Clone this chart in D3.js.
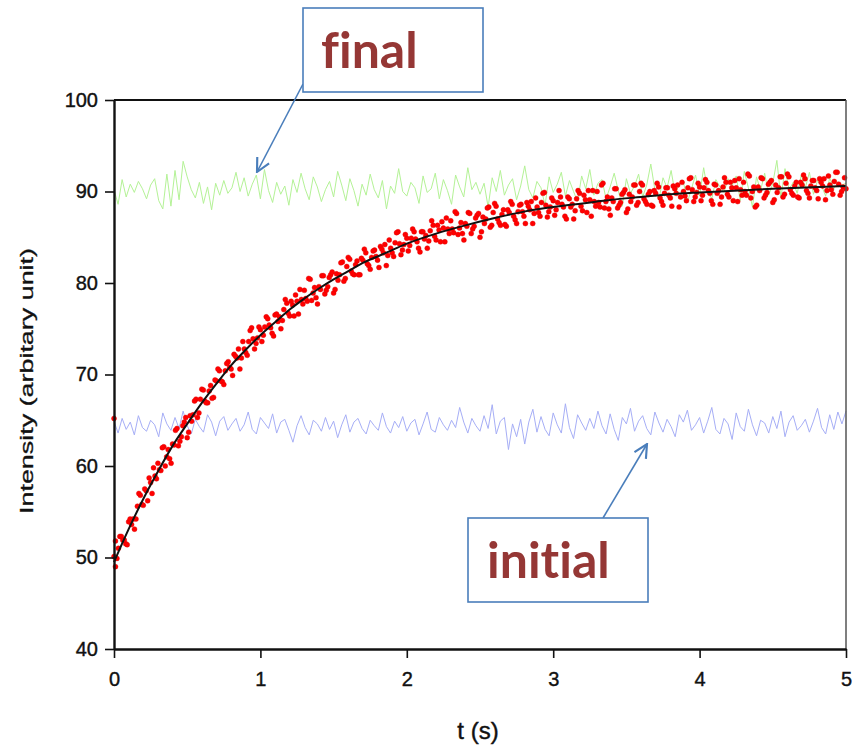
<!DOCTYPE html>
<html>
<head>
<meta charset="utf-8">
<script src="https://cdn.jsdelivr.net/npm/d3@7"></script>
<style>
  body { margin: 0; background: #fff; }
  svg text { font-family: "Liberation Sans", Arial, sans-serif; }
</style>
</head>
<body>
<svg id="chart"></svg>
<script>
// axis ticks
const xTicks = [0, 1, 2, 3, 4, 5];
const yTicks = [40, 50, 60, 70, 80, 90, 100];

// green trace ("final"), evenly spaced over 0..5 s
const finalTrace = [
  90.2, 88.6, 91.3, 89.4, 90.8, 89.9, 91.1, 90.3, 89.2, 90.7,
  91.4, 89.0, 88.1, 91.9, 88.4, 92.3, 89.1, 93.3, 91.6, 90.2,
  89.3, 91.0, 88.7, 90.5, 88.0, 90.9, 89.6, 91.2, 89.8, 90.4,
  92.1, 90.0, 91.5, 89.5, 90.8, 91.8, 89.2, 92.4, 90.1, 88.8,
  91.0, 89.7, 90.6, 88.5, 91.3, 89.9, 92.0, 90.3, 89.1, 91.6,
  90.5, 88.9, 90.2, 91.1, 89.4, 92.2, 90.7, 89.0, 91.4, 90.1,
  88.4, 90.8, 89.6, 91.9, 90.2, 89.3, 91.2, 88.1, 90.6, 89.8,
  92.5, 90.0, 89.5, 91.0, 90.4, 88.7, 91.7, 89.9, 90.3, 92.0,
  89.2, 91.3, 90.1, 88.6, 91.8, 90.5, 89.4, 92.6, 90.2, 91.0,
  89.7, 90.9, 88.3, 91.5, 90.0, 92.3, 89.6, 90.7, 91.4, 89.1,
  90.6, 92.8, 90.2, 89.3, 91.1, 90.4, 88.5, 91.6, 89.9, 90.8,
  92.1, 89.5, 91.2, 90.0, 88.9, 91.7, 90.3, 92.4, 89.6, 90.9,
  91.3, 89.2, 90.5, 92.0, 90.1, 88.4, 91.4, 89.8, 90.6, 91.9,
  89.4, 90.7, 93.0, 90.2, 89.1, 91.5, 90.4, 92.3, 89.7, 90.8,
  91.1, 88.8, 90.3, 91.8, 89.5, 92.6, 90.0, 89.2, 91.3, 90.5,
  89.9, 91.4, 90.6, 91.7, 89.0, 92.2, 90.4, 88.3, 91.6, 90.1,
  92.0, 89.6, 90.9, 93.4, 89.3, 92.5, 90.2, 91.0, 89.8, 91.8,
  90.4, 92.1, 89.7, 91.2, 90.6, 89.5, 91.5, 90.3, 91.0, 90.7,
  90.9
];

// blue trace ("initial"), evenly spaced over 0..5 s
const initialTrace = [
  64.9, 63.6, 65.2, 64.0, 64.8, 63.4, 65.5, 64.2, 63.8, 65.0,
  64.5, 63.2, 65.8, 64.6, 63.9, 65.3, 64.1, 66.0, 64.4, 63.5,
  65.1, 64.3, 63.7, 65.6, 64.8, 63.3, 64.9, 65.4, 63.9, 64.6,
  65.2, 63.8, 64.5, 65.9, 64.0, 63.5, 65.3, 64.7, 64.1, 65.7,
  63.6, 64.8, 65.1, 63.9, 62.6, 64.4, 65.5, 64.2, 63.4, 65.0,
  64.6, 63.8, 65.3, 64.0, 64.9, 63.1, 64.5, 65.6, 63.7, 64.8,
  65.2, 64.1, 63.5, 65.0, 64.4, 63.9, 65.8, 64.3, 63.6, 64.9,
  64.2, 65.4, 63.8, 64.7, 65.1, 63.4, 64.6, 65.9, 64.0, 63.7,
  65.3, 64.5, 63.9, 65.0, 64.2, 66.4, 64.8, 63.6, 65.2, 64.4,
  63.8, 65.5, 64.1, 66.7, 63.5, 64.9, 65.3, 61.8, 64.6, 63.2,
  65.1, 62.4, 64.8, 66.2, 63.7, 65.4, 64.0, 63.3, 65.8, 64.5,
  63.6, 66.8, 64.2, 63.0, 65.6, 64.7, 63.9, 65.2, 64.1, 66.0,
  64.4, 63.5, 65.7, 64.0, 62.8, 65.3, 64.6, 66.3, 63.8, 64.9,
  65.5, 64.1, 63.4, 65.9, 64.7, 63.7, 65.1, 64.3, 63.2, 65.6,
  64.8, 66.1, 63.9, 64.5, 65.3, 63.6, 64.9, 66.4, 64.0, 63.5,
  65.2, 64.6, 62.9, 65.8, 64.3, 63.8, 66.2, 64.5, 63.3, 65.0,
  64.7, 63.6, 65.4, 64.1, 66.0, 63.2, 64.8, 65.5, 63.9, 64.4,
  65.1, 63.7, 64.9, 66.3, 64.2, 63.5, 65.6, 64.0, 65.9, 64.6,
  66.0
];

// red measured points, first run: t = 0, 0.02, ... 5
const recovery = [
  50.1, 49.9, 52.3, 51.9, 51.5, 53.9, 53.6, 53.1, 55.6, 56.8,
  55.7, 57.3, 58.7, 57.0, 58.9, 60.3, 59.5, 62.1, 61.0, 60.8,
  62.4, 63.9, 62.2, 63.2, 64.8, 63.1, 65.5, 65.6, 67.3, 65.8,
  68.4, 67.1, 66.9, 68.8, 67.5, 69.3, 70.4, 69.2, 70.4, 71.4,
  70.6, 72.2, 71.8, 70.6, 73.6, 72.4, 73.6, 75.1, 72.8, 74.0,
  74.9, 74.3, 76.3, 75.4, 74.5, 76.5, 75.8, 75.0, 77.1, 77.8,
  76.4, 77.6, 78.7, 76.6, 78.2, 79.2, 78.0, 80.4, 78.9, 78.4,
  79.6, 80.8, 78.8, 79.6, 80.9, 78.9, 81.0, 80.9, 82.3, 80.5,
  82.8, 81.3, 80.9, 82.4, 80.9, 82.5, 83.3, 81.9, 82.8, 83.6,
  82.5, 84.0, 83.3, 81.9, 84.7, 83.3, 84.4, 85.6, 83.1, 84.2,
  84.9, 84.1, 85.9, 84.8, 83.8, 85.6, 84.8, 83.8, 85.7, 86.3,
  84.7, 85.8, 86.7, 84.5, 85.9, 86.8, 85.5, 87.6, 86.0, 85.4,
  86.5, 87.7, 85.4, 86.2, 87.4, 85.0, 87.2, 87.0, 88.3, 86.3,
  88.7, 87.0, 86.3, 88.0, 86.2, 87.7, 88.6, 86.9, 87.8, 88.6,
  87.3, 88.8, 88.0, 86.5, 89.3, 87.7, 88.8, 89.9, 87.2, 88.3,
  89.0, 88.0, 90.1, 88.6, 87.3, 89.4, 88.3, 87.0, 89.2, 89.8,
  87.9, 89.1, 90.1, 87.3, 88.9, 90.0, 88.3, 90.9, 88.9, 88.1,
  89.3, 90.3, 88.2, 88.8, 89.9, 87.7, 89.7, 89.4, 90.7, 88.8,
  90.9, 89.2, 88.6, 90.0, 88.4, 89.8, 90.5, 88.9, 89.8, 90.4,
  89.3, 90.6, 89.8, 88.3, 91.0, 89.5, 90.4, 91.5, 88.9, 89.9,
  90.5, 89.6, 91.3, 90.1, 89.0, 90.8, 89.8, 88.6, 90.5, 91.0,
  89.4, 90.4, 91.2, 88.9, 90.2, 91.0, 89.6, 91.7, 90.0, 88.3,
  90.5, 91.5, 89.3, 89.9, 91.0, 88.8, 90.7, 90.4, 91.6, 89.7,
  91.9, 90.2, 89.6, 91.0, 89.3, 90.7, 91.4, 89.8, 90.6, 91.2,
  90.1, 91.4, 90.6, 89.1, 91.7, 90.2, 91.1, 92.1, 89.6, 90.5,
  90.3
];
// red measured points, second run: t = 0.01, 0.03, ... 4.99
const recoveryB = [
  49.0, 51.0, 52.3, 51.9, 51.4, 54.2, 54.2, 54.2, 57.0, 55.8,
  57.5, 56.2, 58.2, 59.8, 58.6, 59.6, 62.0, 60.0, 61.8, 60.3,
  62.3, 64.1, 62.7, 64.4, 65.3, 63.7, 64.9, 67.1, 65.3, 67.3,
  68.3, 66.9, 68.2, 67.4, 69.4, 70.6, 69.3, 68.9, 71.2, 70.8,
  69.9, 72.0, 72.8, 71.8, 72.8, 72.1, 74.8, 73.9, 73.4, 75.2,
  73.6, 75.2, 76.1, 75.1, 74.2, 76.6, 76.3, 75.9, 78.2, 76.7,
  78.0, 76.4, 78.0, 79.3, 77.7, 78.3, 80.5, 78.1, 79.5, 77.7,
  79.3, 80.8, 79.2, 80.6, 81.2, 79.3, 80.3, 82.2, 80.2, 81.8,
  82.6, 81.0, 82.0, 80.9, 82.7, 83.7, 82.1, 81.5, 83.5, 82.9,
  81.7, 83.7, 84.2, 83.0, 83.8, 82.9, 85.5, 84.3, 83.6, 85.3,
  83.5, 84.9, 85.6, 84.5, 83.4, 85.6, 85.2, 84.6, 86.8, 85.1,
  86.3, 84.5, 86.0, 87.1, 85.4, 85.9, 87.8, 85.3, 86.6, 84.7,
  86.2, 87.6, 85.9, 87.1, 87.6, 85.6, 86.5, 88.2, 86.1, 87.7,
  88.4, 86.6, 87.5, 86.4, 88.0, 88.9, 87.3, 86.5, 88.5, 87.8,
  86.5, 88.4, 88.9, 87.6, 88.3, 87.3, 89.8, 88.5, 87.8, 89.3,
  87.4, 88.8, 89.4, 88.3, 87.0, 89.2, 88.6, 87.9, 90.1, 88.4,
  89.6, 87.7, 89.1, 90.1, 88.4, 88.8, 90.7, 88.2, 89.4, 87.4,
  88.9, 90.3, 88.5, 89.7, 90.2, 88.1, 88.9, 90.7, 88.5, 90.0,
  90.7, 88.9, 89.7, 88.5, 90.1, 90.9, 89.3, 88.5, 90.4, 89.6,
  88.4, 90.3, 90.7, 89.4, 90.0, 89.0, 91.4, 90.2, 89.4, 90.9,
  89.0, 90.4, 91.0, 89.8, 88.6, 90.7, 90.1, 89.4, 91.5, 89.7,
  91.0, 89.0, 90.4, 91.4, 89.6, 90.0, 91.9, 89.3, 90.5, 88.5,
  90.1, 91.4, 89.6, 90.8, 91.2, 89.1, 89.9, 91.6, 89.4, 90.9,
  91.6, 89.8, 90.6, 89.4, 91.0, 91.8, 90.1, 89.3, 91.2, 90.4,
  89.2, 91.0, 91.4, 90.1, 90.7, 89.7, 92.1, 90.8, 90.0, 91.5
];
// a few stray points near t = 0
const strayT = [0.0, 0.01];
const strayV = [65.2, 51.8];

// fitted curve, read at these times
const fitT = [0, 0.1, 0.2, 0.3, 0.4, 0.5, 0.6, 0.7, 0.8, 0.9, 1.0, 1.1, 1.2, 1.3, 1.4, 1.5,
  1.6, 1.7, 1.8, 1.9, 2.0, 2.2, 2.4, 2.6, 2.8, 3.0, 3.2, 3.4, 3.6, 3.8, 4.0, 4.5, 5.0];
const fitV = [49.5, 53.1, 56.4, 59.4, 62.2, 64.6, 66.9, 69.0, 71.0, 72.7, 74.3, 75.7, 77.1, 78.3, 79.4, 80.4,
  81.3, 82.2, 82.9, 83.6, 84.3, 85.4, 86.3, 87.1, 87.8, 88.3, 88.7, 89.1, 89.4, 89.7, 89.9, 90.3, 90.6];

const W = 854, H = 755;
const plotL = 114, plotR = 846, plotT = 100, plotB = 649;

const svg = d3.select("#chart").attr("width", W).attr("height", H);

const defs = svg.append("defs");
defs.append("marker")
  .attr("id", "open")
  .attr("viewBox", "0 0 12 12")
  .attr("refX", 11).attr("refY", 6)
  .attr("markerWidth", 16).attr("markerHeight", 16)
  .attr("markerUnits", "userSpaceOnUse")
  .attr("orient", "auto")
  .append("path")
  .attr("d", "M1,1 L11,6 L1,11")
  .attr("fill", "none")
  .attr("stroke", "#4a7ebb")
  .attr("stroke-width", 1.6);

const x = d3.scaleLinear().domain([0, 5]).range([plotL, plotR]);
const y = d3.scaleLinear().domain([40, 100]).range([plotB, plotT]);

const evenT = (arr) => arr.map((v, i) => ({ t: i * 5 / (arr.length - 1), v }));

const line = d3.line().x(d => x(d.t)).y(d => y(d.v));

// noisy traces
svg.append("path")
  .datum(evenT(finalTrace))
  .attr("fill", "none")
  .attr("stroke", "#b4f296")
  .attr("stroke-width", 1)
  .attr("d", line);

svg.append("path")
  .datum(evenT(initialTrace))
  .attr("fill", "none")
  .attr("stroke", "#a6aef6")
  .attr("stroke-width", 1)
  .attr("d", line);

// measured points
const pts = evenT(recovery)
  .concat(recoveryB.map((v, i) => ({ t: 0.01 + i * 0.02, v })))
  .concat(strayT.map((t, i) => ({ t, v: strayV[i] })));
svg.append("g")
  .selectAll("circle")
  .data(pts)
  .join("circle")
  .attr("cx", d => x(d.t))
  .attr("cy", d => y(d.v))
  .attr("r", 2.5)
  .attr("fill", "#f00")
  .attr("stroke", "#d00")
  .attr("stroke-width", 0.4);

// fit
svg.append("path")
  .datum(fitT.map((t, i) => ({ t, v: fitV[i] })))
  .attr("fill", "none")
  .attr("stroke", "#111")
  .attr("stroke-width", 2)
  .attr("d", line.curve(d3.curveMonotoneX));

// frame: top and right
svg.append("line")
  .attr("x1", plotL).attr("x2", plotR).attr("y1", plotT).attr("y2", plotT)
  .attr("stroke", "#111").attr("stroke-width", 2);
svg.append("line")
  .attr("x1", plotR).attr("x2", plotR).attr("y1", plotT).attr("y2", plotB)
  .attr("stroke", "#555").attr("stroke-width", 1.5);

// axes
const yAxis = svg.append("g")
  .attr("transform", `translate(${plotL},0)`)
  .call(d3.axisLeft(y).tickValues(yTicks).tickFormat(d3.format("d"))
    .tickSize(9).tickSizeOuter(0).tickPadding(7));
const xAxis = svg.append("g")
  .attr("transform", `translate(0,${plotB})`)
  .call(d3.axisBottom(x).tickValues(xTicks).tickFormat(d3.format("d"))
    .tickSize(9).tickSizeOuter(0).tickPadding(14));

[xAxis, yAxis].forEach(g => {
  g.select(".domain").attr("stroke", "#111").attr("stroke-width", 2.4);
  g.selectAll(".tick line").attr("stroke", "#111").attr("stroke-width", 1.6);
  g.selectAll(".tick text")
    .attr("fill", "#111")
    .attr("stroke", "#111")
    .attr("stroke-width", 0.4)
    .style("font-size", "20px")
    .style("font-family", "'Liberation Sans', Arial, sans-serif");
});

// axis titles
svg.append("text")
  .attr("transform", "translate(33,381) rotate(-90)")
  .attr("text-anchor", "middle")
  .attr("fill", "#111")
  .attr("stroke", "#111").attr("stroke-width", 0.3)
  .attr("textLength", 266)
  .attr("lengthAdjust", "spacingAndGlyphs")
  .style("font-size", "19px")
  .text("Intensity (arbitary unit)");

svg.append("text")
  .attr("x", 478).attr("y", 739)
  .attr("text-anchor", "middle")
  .attr("fill", "#111")
  .attr("stroke", "#111").attr("stroke-width", 0.4)
  .style("font-size", "24px")
  .text("t (s)");

// callouts
function callout(bx, by, bw, bh, label, tx, ty, from, to) {
  svg.append("line")
    .attr("x1", from[0]).attr("y1", from[1])
    .attr("x2", to[0]).attr("y2", to[1])
    .attr("stroke", "#4a7ebb").attr("stroke-width", 1.6)
    .attr("marker-end", "url(#open)");
  svg.append("rect")
    .attr("x", bx).attr("y", by).attr("width", bw).attr("height", bh)
    .attr("fill", "#fff").attr("stroke", "#4a7ebb").attr("stroke-width", 1.6);
  svg.append("text")
    .attr("x", tx).attr("y", ty)
    .attr("fill", "#953735")
    .style("font-family", "Lato, 'Open Sans', sans-serif")
    .style("font-weight", "bold")
    .style("font-size", "50px")
    .style("font-variant-ligatures", "none")
    .text(label);
}

callout(303, 8, 180, 84, "final", 321, 68, [303, 84], [257, 172]);
callout(468, 518, 180, 84, "initial", 487, 578, [603, 518], [647, 444]);
</script>
</body>
</html>
